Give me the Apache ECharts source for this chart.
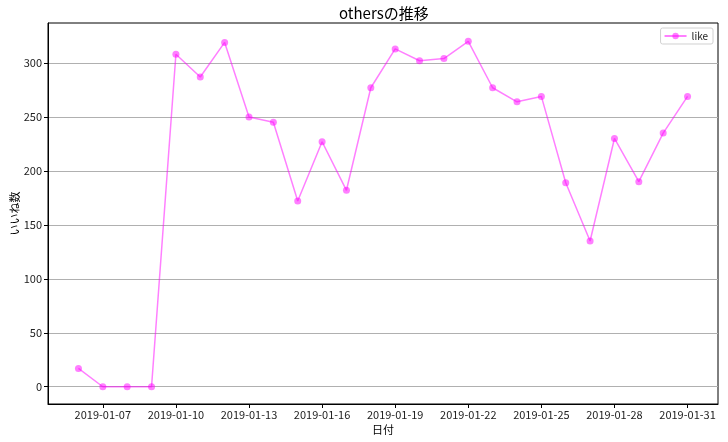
<!DOCTYPE html>
<html>
<head>
<meta charset="utf-8">
<script src="https://cdn.jsdelivr.net/npm/echarts@6/dist/echarts.min.js"></script>
<style>
  html, body { margin: 0; padding: 0; background: #fff; }
  #main { width: 728px; height: 442px; }
</style>
</head>
<body>
<div id="main"></div>
<script>
  // data
  var dates = ['2019-01-06', '2019-01-07', '2019-01-08', '2019-01-09', '2019-01-10', '2019-01-11',
    '2019-01-12', '2019-01-13', '2019-01-14', '2019-01-15', '2019-01-16', '2019-01-17',
    '2019-01-18', '2019-01-19', '2019-01-20', '2019-01-21', '2019-01-22', '2019-01-23',
    '2019-01-24', '2019-01-25', '2019-01-26', '2019-01-27', '2019-01-28', '2019-01-29',
    '2019-01-30', '2019-01-31']
  var likes = [17, 0, 0, 0, 308, 287, 319, 250, 245, 172, 227, 182, 277, 313, 302, 304, 320, 277,
    264, 269, 189, 135, 230, 190, 235, 269]
  var xTicks = ['2019-01-07', '2019-01-10', '2019-01-13', '2019-01-16', '2019-01-19',
    '2019-01-22', '2019-01-25', '2019-01-28', '2019-01-31']
  var yTicks = [0, 50, 100, 150, 200, 250, 300]

  // day of january as x value
  function dayOf(s) { return parseInt(s.slice(8), 10) }

  var FONT = '"Noto Sans CJK JP", "Noto Sans", sans-serif'
  var chart = echarts.init(document.getElementById('main'))
  var option = {
    animation: false,
    title: {
      text: 'othersの推移',
      left: 334, top: 1,
      textStyle: { fontFamily: FONT, fontSize: 15, fontWeight: 'normal', color: '#000' }
    },
    legend: {
      right: 15, top: 28,
      padding: [3, 5, 3, 3],
      borderColor: '#d0d0d0', borderWidth: 1, borderRadius: 2,
      itemWidth: 22, itemHeight: 8, itemGap: 6,
      textStyle: { fontFamily: FONT, fontSize: 10, color: '#222' },
      data: ['like']
    },
    grid: {
      left: 48, right: 10, top: 23, bottom: 38,
      outerBoundsMode: 'none',
      show: true, borderColor: '#000', borderWidth: 1
    },
    xAxis: {
      type: 'value',
      min: 4.75, max: 32.25,
      name: '日付', nameLocation: 'middle', nameGap: 20, nameMoveOverlap: false,
      nameTextStyle: { fontFamily: FONT, fontSize: 11, color: '#000' },
      axisLine: { show: true, onZero: false, lineStyle: { color: '#000' } },
      axisTick: { show: true, length: 4, customValues: xTicks.map(dayOf), lineStyle: { color: '#000' } },
      axisLabel: {
        customValues: xTicks.map(dayOf), margin: 5,
        fontFamily: FONT, fontSize: 11, color: '#222',
        formatter: function (v) { return '2019-01-' + (v < 10 ? '0' : '') + v }
      },
      splitLine: { show: false }
    },
    yAxis: {
      type: 'value',
      min: -16, max: 337,
      name: 'いいね数', nameLocation: 'middle', nameGap: 28, nameRotate: 90, nameMoveOverlap: false,
      nameTextStyle: { fontFamily: FONT, fontSize: 11, color: '#000' },
      axisLine: { show: true, lineStyle: { color: '#000' } },
      axisTick: { show: true, length: 4, customValues: yTicks, lineStyle: { color: '#000' } },
      axisLabel: { customValues: yTicks, margin: 6, fontFamily: FONT, fontSize: 11, color: '#222' },
      splitLine: { show: true, lineStyle: { color: '#b0b0b0', width: 1 } }
    },
    series: [{
      name: 'like',
      type: 'line',
      data: dates.map(function (d, i) { return [dayOf(d), likes[i]] }),
      symbol: 'circle',
      symbolSize: 7,
      itemStyle: { color: 'rgba(255, 0, 255, 0.5)' },
      lineStyle: { color: 'rgba(255, 0, 255, 0.5)', width: 1.5 }
    }]
  }
  chart.setOption(option)
</script>
</body>
</html>
